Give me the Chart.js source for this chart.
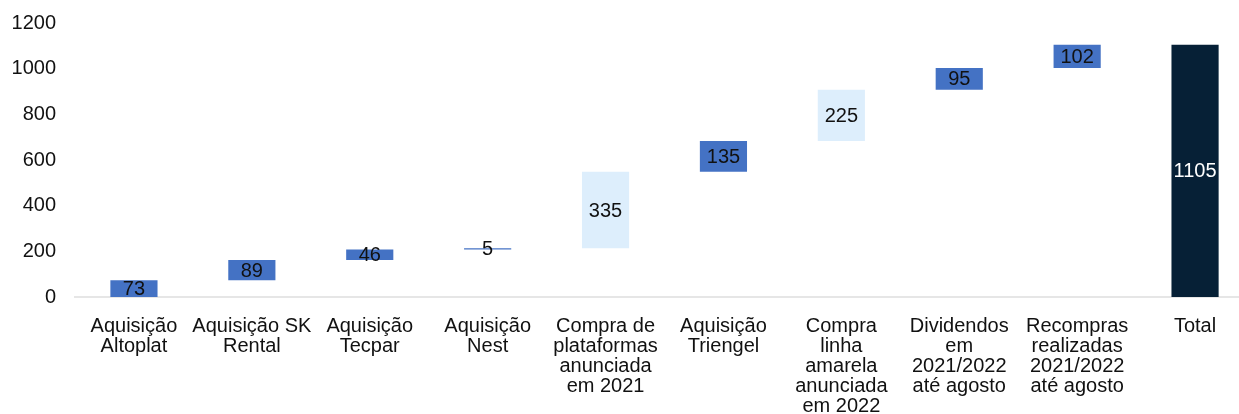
<!DOCTYPE html>
<html><head><meta charset="utf-8">
<script src="https://cdn.jsdelivr.net/npm/chart.js@4/dist/chart.umd.min.js"></script>
<style>html,body{margin:0;padding:0;overflow:hidden;background:#fff;width:1239px;height:414px}canvas{display:block}</style>
</head><body><canvas id="c" width="1256" height="427"></canvas>
<script>
const categories = [
  ["Aquisição","Altoplat"],
  ["Aquisição SK","Rental"],
  ["Aquisição","Tecpar"],
  ["Aquisição","Nest"],
  ["Compra de","plataformas","anunciada","em 2021"],
  ["Aquisição","Triengel"],
  ["Compra","linha","amarela","anunciada","em 2022"],
  ["Dividendos","em","2021/2022","até agosto"],
  ["Recompras","realizadas","2021/2022","até agosto"],
  ["Total"]
];
const stepValues = [73, 89, 46, 5, 335, 135, 225, 95, 102];
const totalValue = 1105;
const announcedSteps = [4, 6];
const yTicks = [0, 200, 400, 600, 800, 1000, 1200];

const FONT = "'Liberation Sans', Arial, sans-serif";
const ranges = [];
const labels = [];
let acc = 0;
stepValues.forEach(v => { ranges.push([acc, acc + v]); labels.push(v); acc += v; });
ranges.push([0, totalValue]); labels.push(totalValue);
const colors = ranges.map((r, i) => i === ranges.length - 1 ? '#062036' : (announcedSteps.includes(i) ? '#DDEEFC' : '#4472C4'));

const labelPlugin = {
  id: 'barLabels',
  afterDatasetsDraw(chart) {
    const ctx = chart.ctx;
    const meta = chart.getDatasetMeta(0);
    const ys = chart.scales.y;
    ctx.save();
    ctx.font = "20px " + FONT;
    ctx.textAlign = 'center';
    ctx.textBaseline = 'middle';
    meta.data.forEach((bar, i) => {
      const r = ranges[i];
      const y = ys.getPixelForValue((r[0] + r[1]) / 2);
      ctx.fillStyle = i === ranges.length - 1 ? '#ffffff' : '#111111';
      ctx.fillText(String(labels[i]), bar.x, y + 1);
    });
    ctx.restore();
  }
};

new Chart(document.getElementById('c'), {
  type: 'bar',
  data: {
    labels: categories,
    datasets: [{
      data: ranges,
      backgroundColor: colors,
      borderWidth: 0,
      barPercentage: 0.4,
      categoryPercentage: 1.0
    }]
  },
  options: {
    responsive: false,
    animation: false,
    layout: { padding: { left: 8, right: 2, top: 4, bottom: 0 } },
    plugins: { legend: { display: false }, tooltip: { enabled: false } },
    scales: {
      x: {
        grid: { display: false },
        border: { display: true, color: '#e6e6e6', width: 2 },
        ticks: {
          color: '#111',
          font: { family: FONT, size: 20, lineHeight: 1.0 },
          maxRotation: 0, minRotation: 0, autoSkip: false, padding: 11
        }
      },
      y: {
        min: 0, max: 1200,
        afterBuildTicks(scale) { scale.ticks = yTicks.map(v => ({ value: v })); },
        afterFit(scale) { scale.width = 67; },
        grid: { display: false },
        border: { display: false },
        ticks: {
          color: '#111',
          font: { family: FONT, size: 20 },
          padding: 11,
          callback: v => String(v)
        }
      }
    }
  },
  plugins: [labelPlugin]
});
</script>
</body></html>
